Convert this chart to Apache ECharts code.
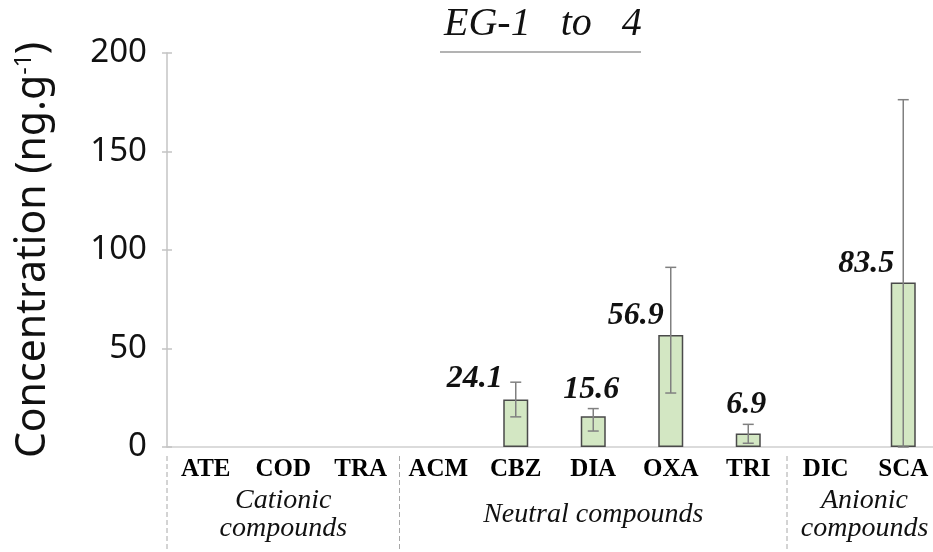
<!DOCTYPE html>
<html>
<head>
<meta charset="utf-8">
<script src="https://cdn.jsdelivr.net/npm/echarts@6/dist/echarts.min.js"></script>
<style>html,body{margin:0;padding:0;background:#fff}#c{width:933px;height:552px}</style>
</head>
<body>
<div id="c"></div>
<script>
const categories = ['ATE','COD','TRA','ACM','CBZ','DIA','OXA','TRI','DIC','SCA'];
const concentration = [null,null,null,null,24.1,15.6,56.9,6.9,null,83.5];
const errorHigh = [null,null,null,null,32.9,19.5,91.2,11.5,null,176.3];
const errorLow  = [null,null,null,null,15.3,8.1,27.4,1.9,null,0];
const yTickValues = [0,50,100,150,200];
const groupNames = ['Cationic\ncompounds','Neutral compounds','Anionic\ncompounds'];
const groupFirst = ['ATE','ACM','DIC'];
const groupLast  = ['TRA','TRI','SCA'];

// label placement (style only)
const labelOffset = {CBZ:[-41,-5], DIA:[-2,-11], OXA:[-35,-3], TRI:[-2,-13], SCA:[-37,-3]};

const chart = echarts.init(document.getElementById('c'), null, {renderer:'canvas'});
const serif = 'Liberation Serif, Times New Roman, serif';
const sans = 'Noto Sans, Open Sans, sans-serif';

const barData = categories.map((c,i)=>({
  value: concentration[i],
  label: {offset: labelOffset[c] || [0,0]}
}));
const errData = [];
categories.forEach((c,i)=>{ if(errorHigh[i]!=null) errData.push([i, errorLow[i], errorHigh[i]]); });

const yMin = yTickValues[0], yMax = yTickValues[yTickValues.length-1], yInt = yTickValues[1]-yTickValues[0];

chart.setOption({
  animation:false,
  title:{text:'EG-1   to   4', left:439, top:-1,
    textStyle:{fontFamily:serif, fontStyle:'italic', fontWeight:'normal', fontSize:40, color:'#111'}},
  grid:{left:167, right:-9, top:53, bottom:105, containLabel:false, outerBoundsMode:'none'},
  xAxis:{type:'category', data:categories,
    axisLine:{lineStyle:{color:'#cfcfcf', width:1.5}},
    axisTick:{show:false},
    axisLabel:{interval:0, margin:10, fontFamily:serif, fontWeight:'bold', fontSize:25, color:'#000'}},
  yAxis:[{type:'value', min:yMin, max:yMax, interval:yInt,
    name:'Concentration (ng.g{s|-1})', nameLocation:'middle', nameGap:113, nameRotate:90,
    nameTextStyle:{fontFamily:sans, fontSize:41, color:'#111',
      rich:{s:{fontFamily:sans, fontSize:23, color:'#111', verticalAlign:'top', padding:[0,0,18,0]}}},
    axisLine:{show:true, lineStyle:{color:'#c4c4c4', width:1.5}},
    axisTick:{show:true, length:5, lineStyle:{color:'#c4c4c4', width:1.5}},
    axisLabel:{margin:20, fontFamily:sans, fontSize:33, color:'#111'},
    splitLine:{show:false}},
   {type:'value', min:yMin, max:yMax, interval:yInt, position:'left',
    axisLine:{show:false}, axisTick:{show:true, inside:true, length:5, lineStyle:{color:'#c4c4c4', width:1.5}},
    axisLabel:{show:false}, splitLine:{show:false}}],
  series:[
    {type:'bar', data:barData, barWidth:25,
      itemStyle:{color:'#d3e7c3', borderColor:'#4a4a4a', borderWidth:1.5},
      label:{show:true, position:'top', distance:0,
        formatter:p=> p.value==null? '' : p.value.toFixed(1),
        fontFamily:serif, fontStyle:'italic', fontWeight:'bold', fontSize:32, color:'#111'}},
    {type:'custom', z:5, data:errData, encode:{x:0, y:[1,2]},
      renderItem:function(params, api){
        const lo = api.coord([api.value(0), api.value(1)]);
        const hi = api.coord([api.value(0), api.value(2)]);
        const w = 5.5;
        const st = {stroke:'#808080', lineWidth:1.5};
        return {type:'group', children:[
          {type:'line', shape:{x1:hi[0], y1:hi[1], x2:lo[0], y2:lo[1]}, style:st},
          {type:'line', shape:{x1:hi[0]-w, y1:hi[1], x2:hi[0]+w, y2:hi[1]}, style:st},
          {type:'line', shape:{x1:lo[0]-w, y1:lo[1], x2:lo[0]+w, y2:lo[1]}, style:st}
        ]};
      }}
  ]
});

// group separators and labels derived from the category axis
const px = c => chart.convertToPixel({xAxisIndex:0}, c);
const band = px(categories[1]) - px(categories[0]);
const base = chart.convertToPixel({yAxisIndex:0}, 0);
const H = chart.getHeight();
const graphics = [
  {type:'line', shape:{x1:440, y1:52, x2:641, y2:52}, style:{stroke:'#9a9a9a', lineWidth:1.5}}
];
groupNames.forEach((g,k)=>{
  const xs = px(groupFirst[k]) - band/2;
  graphics.push({type:'line', shape:{x1:xs, y1:base+9, x2:xs, y2:H}, style:{stroke:'#a8a8a8', lineWidth:1, lineDash:[5,3]}});
  const cx = (px(groupFirst[k]) + px(groupLast[k]))/2;
  graphics.push({type:'text', x:cx, y:base+68, style:{text:g, x:0, y:0, align:'center', verticalAlign:'middle',
    font:'italic 28px ' + serif, lineHeight:28, fill:'#111'}});
});
chart.setOption({graphic:graphics});
</script>
</body>
</html>
